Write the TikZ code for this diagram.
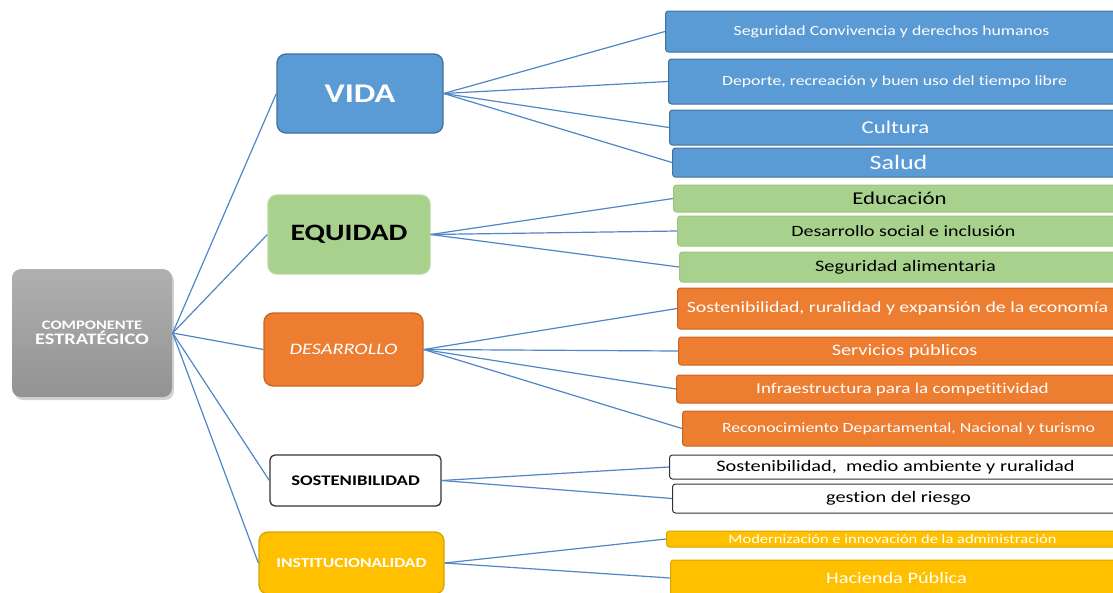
\documentclass[tikz,border=0pt]{standalone}
\usepackage{fontspec}
\setmainfont{Carlito}[FakeStretch=1.27,Ligatures=NoCommon]
\usetikzlibrary{shadows}

\definecolor{azul}{HTML}{5B9BD5}
\definecolor{azulborde}{HTML}{41719C}
\definecolor{verde}{HTML}{A9D18E}
\definecolor{verdeborde}{HTML}{9CC67F}
\definecolor{naranja}{HTML}{ED7D31}
\definecolor{naranjaborde}{HTML}{C9651F}
\definecolor{amarillo}{HTML}{FFC000}
\definecolor{amarilloborde}{HTML}{D9A300}
\definecolor{linea}{HTML}{4F86C6}

\begin{document}
\begin{tikzpicture}[x=1pt,y=-1pt,
    main node/.style={draw,rounded corners=9pt,line width=1.3pt,align=center,inner sep=0pt},
    leaf node/.style={draw,rounded corners=3pt,line width=1pt,anchor=west,inner sep=0pt,minimum width=452pt},
    blue node/.style={fill=azul,draw=azulborde,text=white},
    green node/.style={fill=verde,draw=verdeborde,text=black},
    orange node/.style={fill=naranja,draw=naranjaborde,text=white},
    white node/.style={fill=white,draw=black!80,text=black},
    yellow node/.style={fill=amarillo,draw=amarilloborde,text=white},
    link/.style={draw=linea,line width=1.2pt}]

  \useasboundingbox (0,0) rectangle (1113,592);

  % componente
  \node[main node,draw=none,top color=gray!62,bottom color=gray!85,text=white,font=\bfseries,
        drop shadow={opacity=0.35,shadow xshift=2pt,shadow yshift=-3pt},
        minimum width=160pt,minimum height=128pt] (root) at (92,333)
    {\fontsize{13}{14}\selectfont COMPONENTE\\[0pt]\fontsize{16}{18}\selectfont ESTRATÉGICO};

  % ejes
  \node[main node,blue node,minimum width=166pt,minimum height=79pt,font=\fontsize{27}{30}\selectfont\bfseries] (vida) at (360,93.5) {VIDA};
  \node[main node,green node,draw=verde!85,minimum width=162pt,minimum height=79pt,font=\fontsize{23.5}{26}\selectfont\bfseries] (equidad) at (349,234.5) {EQUIDAD};
  \node[main node,orange node,minimum width=159pt,minimum height=73pt,font=\fontsize{16}{18}\selectfont\itshape] (desarrollo) at (343.5,349.5) {DESARROLLO};
  \node[main node,white node,rounded corners=5pt,minimum width=171pt,minimum height=51pt,font=\fontsize{14.7}{16}\selectfont\bfseries] (sostenibilidad) at (355.5,480.5) {SOSTENIBILIDAD};
  \node[main node,yellow node,minimum width=185pt,minimum height=62pt,font=\fontsize{13.8}{15}\selectfont\bfseries] (institucional) at (351.5,563) {INSTITUCIONALIDAD};

  % programas
  \node[leaf node,blue node,minimum height=41pt,font=\fontsize{14}{16}\selectfont] (seguridad) at (665,31.5) {Seguridad Convivencia y derechos humanos};
  \node[leaf node,blue node,minimum height=45pt,font=\fontsize{14}{16}\selectfont] (deporte) at (668,81.5) {Deporte, recreación y buen uso del tiempo libre};
  \node[leaf node,blue node,minimum height=35pt,font=\fontsize{18}{20}\selectfont] (cultura) at (669,127.5) {Cultura};
  \node[leaf node,blue node,minimum height=29pt,font=\fontsize{20.5}{24}\selectfont] (salud) at (672,162.5) {Salud};

  \node[leaf node,green node,minimum height=27pt,font=\fontsize{18}{20}\selectfont] (educacion) at (673,198.5) {Educación};
  \node[leaf node,green node,minimum height=30pt,font=\fontsize{15.7}{17}\selectfont] (social) at (677,231) {Desarrollo social e inclusión};
  \node[leaf node,green node,minimum height=30pt,font=\fontsize{16}{17}\selectfont] (alimentaria) at (679,267) {Seguridad alimentaria};

  \node[leaf node,orange node,minimum height=41pt,minimum width=440pt,font=\fontsize{15.6}{18}\selectfont] (economia) at (677,308.5) {Sostenibilidad, ruralidad y expansión de la economía};
  \node[leaf node,orange node,minimum height=28pt,font=\fontsize{16}{18}\selectfont] (servicios) at (678,351) {Servicios públicos};
  \node[leaf node,orange node,minimum height=28pt,font=\fontsize{15}{17}\selectfont] (infraestructura) at (676,389) {Infraestructura para la competitividad};
  \node[leaf node,orange node,minimum height=35pt,font=\fontsize{14}{16}\selectfont] (turismo) at (682,428.5) {Reconocimiento Departamental, Nacional y turismo};

  \node[leaf node,white node,minimum height=24pt,font=\fontsize{16}{18}\selectfont] (ambiente) at (669,467) {Sostenibilidad,\ \ medio ambiente y ruralidad};
  \node[leaf node,white node,minimum height=29pt,font=\fontsize{16}{18}\selectfont] (riesgo) at (672,498.5) {gestion del riesgo};

  \node[leaf node,yellow node,minimum height=16pt,font=\fontsize{13}{14}\selectfont] (modernizacion) at (666,539) {Modernización e innovación de la administración};
  \node[leaf node,yellow node,minimum height=36pt,font=\fontsize{16}{18}\selectfont] (hacienda) at (670,578) {Hacienda Pública};

  \path[link]
    (root.east) edge (vida.west)
                edge (equidad.west)
                edge (desarrollo.west)
                edge (sostenibilidad.west)
                edge (institucional.west)
    (vida.east) edge (seguridad.west)
                edge (deporte.west)
                edge (cultura.west)
                edge (salud.west)
    (equidad.east) edge (educacion.west)
                   edge (social.west)
                   edge (alimentaria.west)
    (desarrollo.east) edge (economia.west)
                      edge (servicios.west)
                      edge (infraestructura.west)
                      edge (turismo.west)
    (sostenibilidad.east) edge (ambiente.west)
                          edge (riesgo.west)
    (institucional.east) edge (modernizacion.west)
                         edge (hacienda.west);
\end{tikzpicture}
\end{document}
